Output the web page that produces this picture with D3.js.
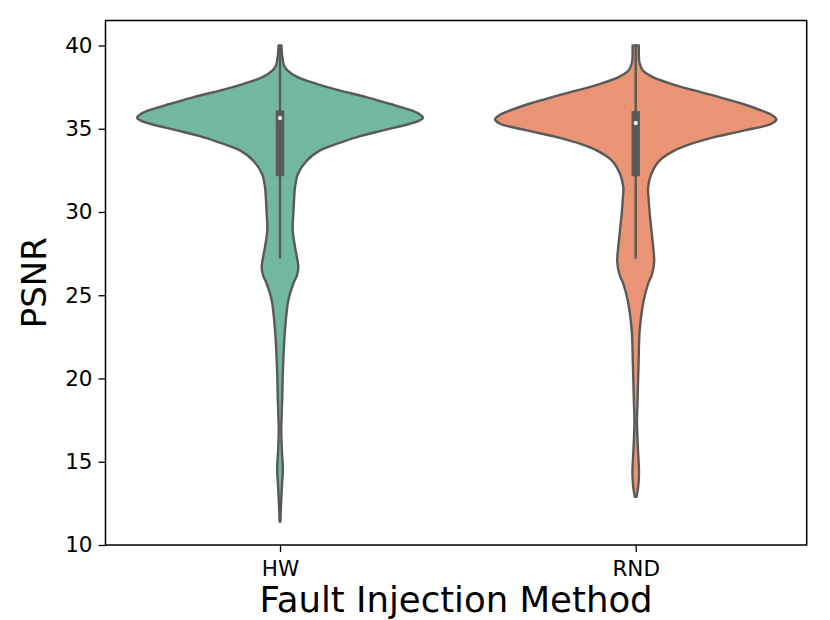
<!DOCTYPE html>
<html>
<head>
<meta charset="utf-8">
<script src="https://cdn.jsdelivr.net/npm/d3@7"></script>
<style>
  html, body { margin: 0; padding: 0; background: #fff; }
  svg { display: block; font-family: "DejaVu Sans", sans-serif; }
</style>
</head>
<body>
<svg id="chart" width="830" height="620"></svg>
<script>
// ---- Data ----
const categories = ["HW", "RND"];
const colors = ["#71b7a1", "#e99575"];
const yTicks = [10, 15, 20, 25, 30, 35, 40];

// Kernel density profile (PSNR level, relative density) for each method
const hwPsnr = [40.0, 39.4, 39.1, 38.8, 38.5, 38.1, 37.7, 37.3, 36.9, 36.5, 36.1, 35.86, 35.66, 35.5, 35.3,
  34.9, 34.5, 34.1, 33.7, 33.1, 32.3, 31.5, 30.7, 29.9, 28.9, 27.9, 26.7, 26.2, 25.7, 24.7, 22.9,
  20.9, 18.7, 16.9, 15.7, 14.6, 13.6, 12.4, 11.4];
const hwDensity = [0.010, 0.015, 0.020, 0.028, 0.052, 0.122, 0.255, 0.415, 0.605, 0.765, 0.920, 0.978, 1.000, 0.978, 0.909,
  0.720, 0.538, 0.399, 0.280, 0.189, 0.126, 0.105, 0.098, 0.093, 0.089, 0.105, 0.128, 0.119, 0.093, 0.058, 0.035,
  0.022, 0.015, 0.009, 0.013, 0.020, 0.014, 0.007, 0.003];

const rndPsnr = [40.0, 39.4, 38.98, 38.5, 38.1, 37.7, 37.3, 36.9, 36.5, 36.1, 35.8, 35.56, 35.3,
  34.9, 34.5, 34.1, 33.7, 33.1, 32.3, 31.5, 30.7, 29.9, 28.9, 27.9, 27.0, 26.2, 25.7, 24.7, 22.9,
  20.9, 18.7, 17.3, 15.7, 14.3, 13.4, 12.9];
const rndDensity = [0.022, 0.022, 0.026, 0.050, 0.120, 0.247, 0.410, 0.585, 0.745, 0.877, 0.956, 0.984, 0.949,
  0.762, 0.552, 0.390, 0.273, 0.168, 0.110, 0.087, 0.091, 0.098, 0.110, 0.122, 0.129, 0.112, 0.087, 0.056, 0.028,
  0.020, 0.013, 0.009, 0.016, 0.023, 0.016, 0.006];

// Box statistics: [whisker low, q1, median, q3, whisker high]
const hwBox = [27.26, 32.15, 35.64, 36.1, 40.0];
const rndBox = [27.26, 32.15, 35.34, 36.06, 40.0];

const xLabel = "Fault Injection Method";
const yLabel = "PSNR";

// ---- Layout ----
const plotLeft = 105.5, plotRight = 806.7, plotTop = 20.5, plotBottom = 545;
const svg = d3.select("#chart");

const y = d3.scaleLinear().domain([10, 41.5]).range([plotBottom, plotTop]);
const x = d3.scaleLinear().domain([-0.4906, 1.4807]).range([plotLeft, plotRight]);
const w = d3.scaleLinear().domain([0, 1]).range([0, 143]);

const gray = "#595959";

const violins = [
  { name: categories[0], psnr: hwPsnr, dens: hwDensity, box: hwBox, color: colors[0] },
  { name: categories[1], psnr: rndPsnr, dens: rndDensity, box: rndBox, color: colors[1] }
];

violins.forEach((vd, i) => {
  const cx = x(i);
  const pts = vd.psnr.map((p, k) => ({ v: p, d: vd.dens[k] }));
  const area = d3.area()
    .y(d => y(d.v))
    .x0(d => cx - w(d.d))
    .x1(d => cx + w(d.d))
    .curve(d3.curveCatmullRom.alpha(0.5));
  svg.append("path")
    .attr("d", area(pts))
    .attr("fill", vd.color)
    .attr("stroke", gray)
    .attr("stroke-width", 2.4)
    .attr("stroke-linejoin", "round");

  const [lo, q1, med, q3, hi] = vd.box;
  svg.append("line")
    .attr("x1", cx).attr("x2", cx)
    .attr("y1", y(lo)).attr("y2", y(hi))
    .attr("stroke", gray).attr("stroke-width", 2.4).attr("stroke-linecap", "round");
  svg.append("rect")
    .attr("x", cx - 4.2).attr("width", 8.4)
    .attr("y", y(q3)).attr("height", y(q1) - y(q3))
    .attr("fill", gray);
  svg.append("circle")
    .attr("cx", cx).attr("cy", y(med)).attr("r", 2.1)
    .attr("fill", "#ffffff");
});

// ---- Axes ----
const yAxis = d3.axisLeft(y).tickValues(yTicks).tickSize(7).tickPadding(6).tickFormat(d3.format("d"));
const gy = svg.append("g").attr("transform", `translate(${plotLeft},0)`).call(yAxis);
gy.select(".domain").remove();
gy.selectAll(".tick line").attr("stroke", "#000").attr("stroke-width", 1.3);
gy.selectAll(".tick text").attr("font-size", 21.5).attr("fill", "#000")
  .attr("font-family", "DejaVu Sans, sans-serif");

const xAxis = d3.axisBottom(x).tickValues([0, 1]).tickSize(7).tickPadding(9)
  .tickFormat(i => categories[i]);
const gx = svg.append("g").attr("transform", `translate(0,${plotBottom})`).call(xAxis);
gx.select(".domain").remove();
gx.selectAll(".tick line").attr("stroke", "#000").attr("stroke-width", 1.3);
gx.selectAll(".tick text").attr("font-size", 21.5).attr("fill", "#000")
  .attr("font-family", "DejaVu Sans, sans-serif");

// Frame
svg.append("rect")
  .attr("x", plotLeft).attr("y", plotTop)
  .attr("width", plotRight - plotLeft).attr("height", plotBottom - plotTop)
  .attr("fill", "none").attr("stroke", "#000").attr("stroke-width", 1.5);

// Labels
svg.append("text")
  .attr("x", (plotLeft + plotRight) / 2).attr("y", 612)
  .attr("text-anchor", "middle")
  .attr("font-size", 35.5).attr("fill", "#000")
  .text(xLabel);

svg.append("text")
  .attr("transform", `translate(46,${(plotTop + plotBottom) / 2}) rotate(-90)`)
  .attr("text-anchor", "middle")
  .attr("font-size", 34).attr("fill", "#000")
  .text(yLabel);
</script>
</body>
</html>
